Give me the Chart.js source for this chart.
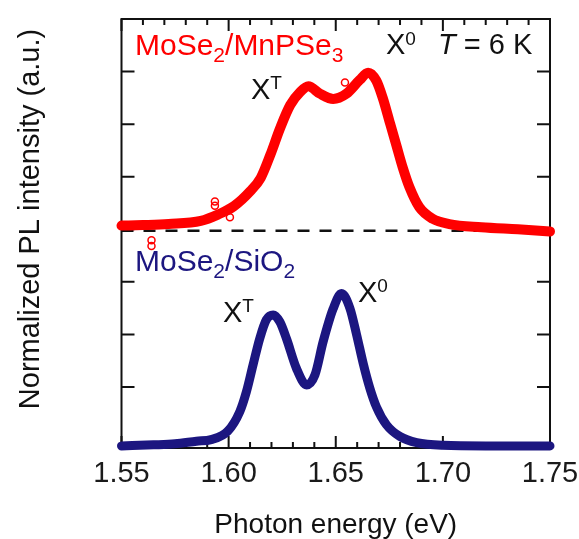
<!DOCTYPE html>
<html>
<head>
<meta charset="utf-8">
<script src="https://cdn.jsdelivr.net/npm/chart.js@4.4.1/dist/chart.umd.min.js"></script>
<style>
  html, body { margin: 0; padding: 0; background: #fff; }
  #c { display: block; }
</style>
</head>
<body>
<canvas id="c" width="579" height="539" style="width:579px;height:539px"></canvas>
<script>
// data (photon energy in eV, intensity in tick units, red shifted by +4)
const redE = [1.550, 1.560, 1.572, 1.587, 1.595, 1.6025, 1.610, 1.615, 1.6195, 1.624, 1.6287, 1.6334, 1.6372, 1.6426, 1.6488, 1.655, 1.6612, 1.6651, 1.6689, 1.672, 1.6751, 1.6782, 1.6813, 1.6844, 1.689, 1.6952, 1.703, 1.718, 1.735, 1.750];
const redI = [4.07, 4.08, 4.10, 4.16, 4.28, 4.44, 4.72, 4.98, 5.42, 5.92, 6.36, 6.61, 6.72, 6.58, 6.48, 6.58, 6.84, 6.98, 6.83, 6.49, 6.05, 5.61, 5.17, 4.80, 4.42, 4.20, 4.10, 4.04, 4.00, 3.96];

const redOutE = [1.564, 1.564, 1.5936, 1.5936, 1.6006, 1.6543];
const redOutI = [3.79, 3.68, 4.53, 4.45, 4.23, 6.79];

const blueE = [1.550, 1.565, 1.575, 1.585, 1.5918, 1.5996, 1.6052, 1.6083, 1.6114, 1.6145, 1.6176, 1.6208, 1.6239, 1.627, 1.6317, 1.6364, 1.6403, 1.6441, 1.6488, 1.6527, 1.6566, 1.6597, 1.6628, 1.6659, 1.669, 1.6737, 1.6799, 1.6878, 1.700, 1.720, 1.750];
const blueI = [-0.12, -0.10, -0.08, -0.03, 0.00, 0.16, 0.53, 0.91, 1.42, 1.92, 2.28, 2.37, 2.24, 1.92, 1.35, 1.04, 1.23, 1.86, 2.49, 2.78, 2.50, 2.00, 1.45, 0.98, 0.62, 0.28, 0.06, -0.06, -0.11, -0.12, -0.12];

const dashE = [1.55, 1.75];
const dashI = [3.97, 3.97];

const xTicks = [1.55, 1.60, 1.65, 1.70, 1.75];

const FONT = "'Liberation Sans', Arial, sans-serif";
const RED = "rgb(255,0,0)";
const BLUE = "rgb(28,22,128)";

const pts = (xs, ys) => xs.map((v, i) => ({ x: v, y: ys[i] }));
const isMajor = v => xTicks.some(t => Math.abs(t - v) < 1e-6);

// draw text pieces (sub/superscripts) one after another
function drawParts(ctx, x, y, parts, color) {
  ctx.fillStyle = color;
  ctx.textBaseline = "alphabetic";
  ctx.textAlign = "left";
  parts.forEach(p => {
    const [txt, size, dy, italic] = p;
    ctx.font = (italic ? "italic " : "") + size + "px " + FONT;
    ctx.fillText(txt, x, y + (dy || 0));
    x += ctx.measureText(txt).width;
  });
}

const frame = {
  id: "frame",
  beforeDatasetsDraw(chart) {
    const { ctx, chartArea: a, scales: { x, y } } = chart;
    ctx.save();
    ctx.strokeStyle = "#111";
    ctx.lineWidth = 2;
    ctx.strokeRect(a.left, a.top, a.right - a.left, a.bottom - a.top);
    ctx.beginPath();
    x.ticks.forEach(t => {
      const px = x.getPixelForValue(t.value);
      const len = isMajor(t.value) ? 12 : 6;
      ctx.moveTo(px, a.bottom); ctx.lineTo(px, a.bottom - len);
      ctx.moveTo(px, a.top); ctx.lineTo(px, a.top + len);
    });
    y.ticks.forEach(t => {
      if (t.value < 0 || t.value >= 8) return;
      const py = y.getPixelForValue(t.value);
      ctx.moveTo(a.left, py); ctx.lineTo(a.left + 13, py);
      ctx.moveTo(a.right, py); ctx.lineTo(a.right - 13, py);
    });
    ctx.stroke();
    ctx.restore();
  },
  afterDraw(chart) {
    const { ctx, chartArea: a } = chart;
    ctx.save();
    // sample labels
    drawParts(ctx, 135, 55, [["MoSe", 30], ["2", 21, 7], ["/MnPSe", 30], ["3", 21, 7]], RED);
    drawParts(ctx, 135, 271, [["MoSe", 30], ["2", 21, 7], ["/SiO", 30], ["2", 21, 7]], BLUE);
    // peak labels
    drawParts(ctx, 386, 54, [["X", 29], ["0", 19, -9]], "#111");
    drawParts(ctx, 438, 54, [["T", 29, 0, true], [" = 6 K", 29]], "#111");
    drawParts(ctx, 251, 99, [["X", 29], ["T", 19, -10]], "#111");
    drawParts(ctx, 223, 322, [["X", 29], ["T", 19, -10]], "#111");
    drawParts(ctx, 358, 302, [["X", 29], ["0", 19, -10]], "#111");
    // axis titles
    ctx.fillStyle = "#111";
    ctx.font = "28px " + FONT;
    ctx.textAlign = "center";
    ctx.textBaseline = "alphabetic";
    ctx.fillText("Photon energy (eV)", (a.left + a.right) / 2, 533);
    ctx.translate(39, 219);
    ctx.rotate(-Math.PI / 2);
    ctx.font = "29px " + FONT;
    ctx.fillText("Normalized PL intensity (a.u.)", 0, 0);
    ctx.restore();
  }
};

new Chart(document.getElementById("c"), {
  type: "scatter",
  data: {
    datasets: [
      {
        data: pts(redE, redI), showLine: true, borderColor: RED, borderWidth: 10,
        borderCapStyle: "round", borderJoinStyle: "round",
        cubicInterpolationMode: "monotone", pointRadius: 0, clip: false, order: 2
      },
      {
        data: pts(redOutE, redOutI), showLine: false, pointRadius: 3.5, pointBorderWidth: 1.5,
        pointBorderColor: RED, pointBackgroundColor: "rgba(255,255,255,0)", clip: false, order: 1
      },
      {
        data: pts(blueE, blueI), showLine: true, borderColor: BLUE, borderWidth: 9,
        borderCapStyle: "round", borderJoinStyle: "round",
        cubicInterpolationMode: "monotone", pointRadius: 0, clip: false, order: 2
      },
      {
        data: pts(dashE, dashI), showLine: true, borderColor: "#111", borderWidth: 2.5,
        borderDash: [12, 10], pointRadius: 0, order: 5
      }
    ]
  },
  options: {
    responsive: false,
    animation: false,
    devicePixelRatio: 1,
    layout: { padding: { left: 121.5, right: 29, top: 19, bottom: 38.2 } },
    plugins: { legend: { display: false }, tooltip: { enabled: false } },
    scales: {
      x: {
        type: "linear", min: 1.55, max: 1.75,
        border: { display: false },
        grid: { display: false, drawTicks: false },
        afterFit: s => { s.paddingLeft = 0; s.paddingRight = 0; },
        ticks: {
          stepSize: 0.01, autoSkip: false, maxRotation: 0, padding: 9,
          color: "#1a1a1a", font: { family: FONT, size: 29 },
          callback: v => isMajor(v) ? v.toFixed(2) : ""
        }
      },
      y: { display: false, min: -0.16, max: 8, ticks: { stepSize: 1 } }
    }
  },
  plugins: [frame]
});
</script>
</body>
</html>
